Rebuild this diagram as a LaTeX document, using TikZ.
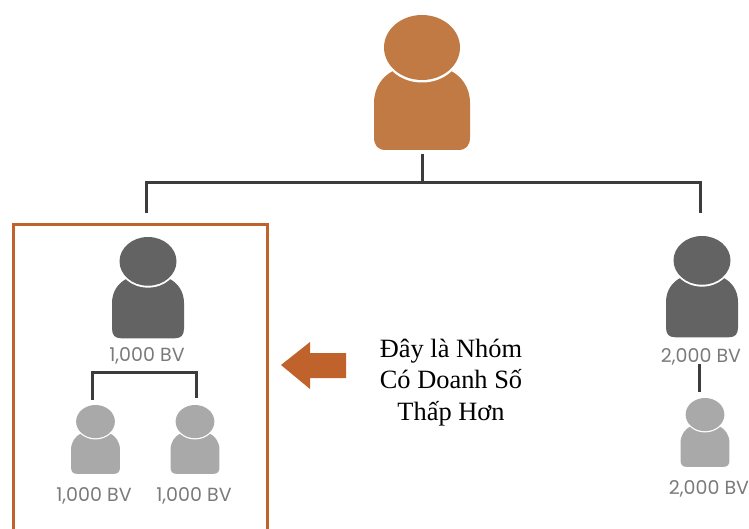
\documentclass[tikz,border=0pt]{standalone}
\usepackage{fontspec}
\setmainfont{Liberation Serif}
\newfontfamily\bvfont{Poppins}
\definecolor{orangeP}{HTML}{C27A45}
\definecolor{darkP}{HTML}{636363}
\definecolor{lightP}{HTML}{A9A9A9}
\definecolor{boxC}{HTML}{BF622B}
\definecolor{lineC}{HTML}{3C3C3C}
\definecolor{bvC}{HTML}{7A7A7A}
\tikzset{
  person/.pic={
    \fill[pic actions] (-29,56) .. controls (-39,61) and (-48,72) .. (-48,88)
      -- (-48,122) .. controls (-48,131) and (-44,135) .. (-36,135)
      -- (36,135) .. controls (44,135) and (48,131) .. (48,122)
      -- (48,88) .. controls (48,72) and (39,61) .. (29,56) -- cycle;
    \fill[white] (0,33) ellipse [x radius=40,y radius=34.5];
    \fill[pic actions] (0,32.5) ellipse [x radius=38,y radius=32.5];
  },
  link/.style={draw=lineC,line width=3pt},
  bv/.style={font=\bvfont\fontsize{19}{21}\selectfont,text=bvC,anchor=base,inner sep=0pt},
  boxline/.style={draw=boxC,line width=3pt}
}
\begin{document}
\begin{tikzpicture}[x=1pt,y=-1pt]
\useasboundingbox (0,0) rectangle (749,529);
% people
\pic[fill=orangeP] at (422,15) {person};
\pic[fill=darkP,scale=.75] at (148,237) {person};
\pic[fill=darkP,scale=.75] at (702,236) {person};
\pic[fill=lightP,scale=.51] at (95.5,405) {person};
\pic[fill=lightP,scale=.51] at (195,405) {person};
\pic[fill=lightP,scale=.51] at (705,398) {person};
% labels
\node[bv] (l1) at (147,361) {1,000 BV};
\node[bv] (l2) at (94,501) {1,000 BV};
\node[bv] (l3) at (194,501) {1,000 BV};
\node[bv] (l4) at (701,362) {2,000 BV};
\node[bv] (l5) at (709,494) {2,000 BV};
% connector ends
\coordinate (topS) at (422,154);
\coordinate (topJ) at (422,183);
\coordinate (leftE) at (146,213);
\coordinate (rightE) at (700,213);
\coordinate (a1) at (92,400);
\coordinate (a2) at (196,398);
\coordinate (aJ) at (92,372);
\coordinate (r1) at (699,364);
\coordinate (r2) at (699,392);
\draw[link] (topS) -- (topJ);
\draw[link] (leftE) -- (leftE |- topJ) -- (rightE |- topJ) -- (rightE);
\draw[link] (a1) -- (aJ) -- (a2 |- aJ) -- (a2);
\draw[link] (r1) -- (r2);
% box
\draw[boxline] (13,531) -- (13,224.5) -- (267.5,224.5) -- (267.5,531);
% arrow
\fill[boxC] (281,365) -- (310,342) -- (310,353) -- (346,353) -- (346,378) -- (310,378) -- (310,389) -- cycle;
% text
\node[font=\fontsize{26.4}{31.5}\selectfont,align=center,inner sep=0pt,text=black] (t) at (451,382.5)
  {Đây là Nhóm\\Có Doanh Số\\Thấp Hơn};
\end{tikzpicture}
\end{document}
